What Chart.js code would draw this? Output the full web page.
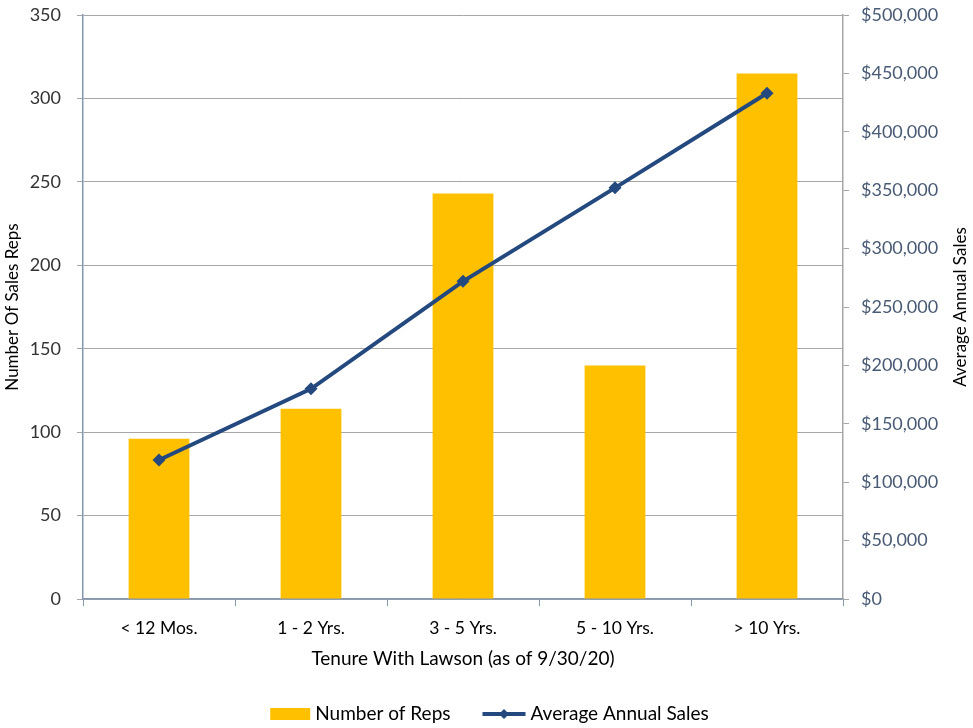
<!DOCTYPE html>
<html>
<head>
    <title>Tenure With Lawson</title>
    <script src="https://cdn.jsdelivr.net/npm/chart.js"></script>
    <style>
        html, body { margin: 0; padding: 0; background: #ffffff; }
        #wrap { width: 973px; height: 728px; }
    </style>
</head>
<body>
<div id="wrap"><canvas id="tenure-chart" width="973" height="728"></canvas></div>
<script>
    var categories = ['< 12 Mos.', '1 - 2 Yrs.', '3 - 5 Yrs.', '5 - 10 Yrs.', '> 10 Yrs.'];
    var repCounts = [96, 114, 243, 140, 315];
    var avgSales = [119000, 180000, 272000, 352000, 433000];

    var font = "Lato, 'Open Sans', sans-serif";
    var gold = '#FFC000';
    var navy = '#23497F';
    var salesTitle = 'Average Annual Sales';

    function diamond(ctx, cx, cy, r) {
        ctx.beginPath();
        ctx.moveTo(cx, cy - r);
        ctx.lineTo(cx + r, cy);
        ctx.lineTo(cx, cy + r);
        ctx.lineTo(cx - r, cy);
        ctx.closePath();
        ctx.fill();
    }

    // fixed axis sizes so the plot box lands where it should
    function fitY(width) {
        return function (scale) {
            scale.width = width;
            scale.paddingTop = 15;
            scale.paddingBottom = 0;
        };
    }

    // right axis title reads bottom-to-top, and the legend sits under the x title
    var extras = {
        id: 'extras',
        afterDraw: function (chart) {
            var ctx = chart.ctx;
            var area = chart.chartArea;
            var right = chart.scales.ySales;
            ctx.save();
            ctx.fillStyle = '#000000';
            ctx.font = '17px ' + font;
            ctx.textAlign = 'center';
            ctx.textBaseline = 'middle';
            ctx.translate(right.right - 10, (area.top + area.bottom) / 2);
            ctx.rotate(-Math.PI / 2);
            ctx.fillText(salesTitle, 0, 0);
            ctx.restore();

            // legend
            ctx.save();
            ctx.font = '19px ' + font;
            ctx.textBaseline = 'middle';
            var t1 = 'Number of Reps', t2 = salesTitle;
            var w1 = ctx.measureText(t1).width, w2 = ctx.measureText(t2).width;
            var total = 40 + 5 + w1 + 32 + 43 + 5 + w2;
            var x = (chart.width - total) / 2 + 3;
            var y = 714;
            ctx.fillStyle = gold;
            ctx.fillRect(x, y - 6, 40, 12);
            ctx.fillStyle = '#000000';
            ctx.fillText(t1, x + 45, y);
            x += 45 + w1 + 32;
            ctx.strokeStyle = navy;
            ctx.lineWidth = 4;
            ctx.beginPath();
            ctx.moveTo(x, y);
            ctx.lineTo(x + 43, y);
            ctx.stroke();
            ctx.fillStyle = navy;
            diamond(ctx, x + 21.5, y, 5);
            ctx.fillStyle = '#000000';
            ctx.fillText(t2, x + 48, y);
            ctx.restore();
        }
    };

    var ctx = document.getElementById('tenure-chart').getContext('2d');
    var chart = new Chart(ctx, {
        type: 'bar',
        data: {
            labels: categories,
            datasets: [{
                type: 'line',
                label: salesTitle,
                data: avgSales,
                yAxisID: 'ySales',
                borderColor: navy,
                backgroundColor: navy,
                borderWidth: 4,
                pointStyle: 'rectRot',
                pointRadius: 6.5,
                pointBackgroundColor: navy,
                pointBorderWidth: 0,
                tension: 0,
                order: 0
            }, {
                type: 'bar',
                label: 'Number of Reps',
                data: repCounts,
                yAxisID: 'yReps',
                backgroundColor: gold,
                barPercentage: 0.4,
                categoryPercentage: 1.0,
                order: 1
            }]
        },
        options: {
            responsive: false,
            animation: false,
            layout: { padding: { top: 0, right: 2, left: 2, bottom: 58 } },
            plugins: {
                tooltip: { enabled: false },
                legend: { display: false }
            },
            scales: {
                x: {
                    afterFit: function (scale) {
                        scale.height = 71;
                        scale.paddingLeft = 0;
                        scale.paddingRight = 0;
                    },
                    grid: {
                        offset: true,
                        drawOnChartArea: false,
                        tickLength: 7,
                        color: '#8497B0'
                    },
                    border: { color: '#8497B0', width: 1.5 },
                    ticks: { color: '#000000', font: { family: font, size: 17.5 }, padding: 12 },
                    title: {
                        display: true,
                        text: 'Tenure With Lawson (as of 9/30/20)',
                        color: '#000000',
                        font: { family: font, size: 19 },
                        padding: { top: 6, bottom: 0 }
                    }
                },
                yReps: {
                    position: 'left',
                    min: 0,
                    max: 350,
                    afterFit: fitY(81),
                    ticks: { stepSize: 50, color: '#333333', font: { family: font, size: 18 }, padding: 16 },
                    grid: { color: '#A6A6A6', lineWidth: 1, tickLength: 6 },
                    border: { color: '#8497B0', width: 1.5 },
                    title: {
                        display: true,
                        text: 'Number Of Sales Reps',
                        color: '#000000',
                        font: { family: font, size: 17 },
                        padding: { top: 0, bottom: 7 }
                    }
                },
                ySales: {
                    position: 'right',
                    min: 0,
                    max: 500000,
                    afterFit: fitY(128),
                    ticks: {
                        stepSize: 50000,
                        color: '#485A74',
                        font: { family: font, size: 18 },
                        padding: 12,
                        callback: function (v) { return '$' + v.toLocaleString('en-US'); }
                    },
                    grid: { drawOnChartArea: false, color: '#A6A6A6', tickLength: 6 },
                    border: { color: '#A6A6A6', width: 1.5 },
                    title: {
                        // space is kept here; the text itself is drawn by the extras plugin
                        display: true,
                        text: salesTitle,
                        color: 'rgba(0,0,0,0)',
                        font: { family: font, size: 17 },
                        padding: { top: 6, bottom: 6 }
                    }
                }
            }
        },
        plugins: [extras]
    });
</script>
</body>
</html>
